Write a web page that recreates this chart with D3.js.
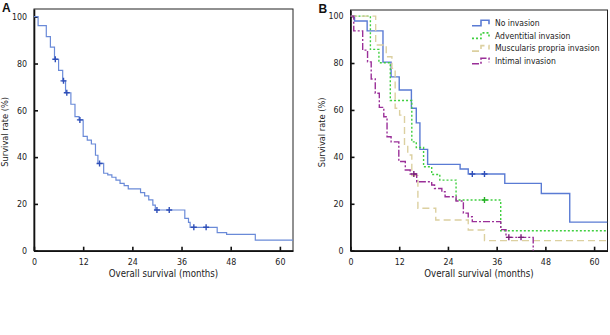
<!DOCTYPE html>
<html>
<head>
<meta charset="utf-8">
<script src="https://cdn.jsdelivr.net/npm/d3@7"></script>
<style>
  body { margin: 0; background: #fff; }
  svg { display: block; }
</style>
</head>
<body>
<div id="viz"></div>
<script>
// Panel A - all patients
const allTimes  = [0, 1, 3, 4, 5, 6, 7, 7.7, 9, 10, 11, 12, 13, 14, 15, 15.6, 17, 18, 19, 20, 21, 22, 23, 26, 27, 28, 29, 29.6, 36.8, 37.7, 38.1, 44.7, 47, 54];
const allSurv   = [100, 96.2, 91.5, 87.0, 81.8, 77.1, 72.6, 67.5, 62.6, 57.3, 55.9, 48.9, 47.3, 45.6, 40.8, 37.3, 33.1, 32.4, 31.4, 30.2, 28.8, 27.8, 26.4, 24.8, 23.4, 21.7, 19.5, 17.4, 13.8, 12.1, 10.0, 7.7, 7.0, 4.5];
const allCensor = [5.2, 7.2, 8, 11.2, 16, 30, 33, 39, 42];

// Panel B - by depth of invasion
const groups = ["No invasion", "Adventitial invasion", "Muscularis propria invasion", "Intimal invasion"];

const noTimes  = [0, 1, 4.1, 8, 10, 12, 15, 16.2, 17.1, 19, 27, 29, 38, 47, 54];
const noSurv   = [100, 97.9, 93.7, 80.4, 74.1, 68.5, 60.7, 54.5, 43.2, 36.8, 34.8, 32.7, 28.7, 24.4, 12.2];
const noCensor = [30, 33];

const advTimes  = [0, 4.9, 7, 9.8, 15.1, 16.2, 18, 20, 22, 26, 37];
const advSurv   = [100, 85.8, 80.1, 64.0, 46.4, 44.0, 35.8, 32.5, 30.1, 21.6, 8.5];
const advCensor = [33];

const mpTimes  = [0, 6.2, 8.8, 10.2, 11, 12.1, 13.3, 14.1, 15.1, 16.6, 21, 29, 33];
const mpSurv   = [100, 87.7, 82.7, 77.7, 60.7, 57.8, 45.0, 40.8, 32.0, 18.1, 13.1, 8.8, 4.3];
const mpCensor = [];

const intTimes  = [0, 0.8, 3, 4.2, 5.1, 6.1, 7.1, 8.2, 9, 10, 11.9, 13.5, 14.7, 16.3, 20, 20.7, 22.5, 23.3, 26, 27.8, 29, 30, 37, 38.3, 45];
const intSurv   = [100, 93.7, 85.5, 80.5, 73.2, 67.1, 61.1, 57.1, 48.6, 46.4, 38.0, 34.4, 32.7, 29.4, 28.0, 26.5, 25.1, 23.0, 21.2, 16.0, 14.5, 12.4, 9.0, 5.7, 0];
const intCensor = [15.6, 39, 42];

const xTicks = [0, 12, 24, 36, 48, 60];
const yTicks = [0, 20, 40, 60, 80, 100];

const curveColors = ["#5a7bd4", "#3fcf3f", "#dcd0a0", "#9a2f98"];
const curveDash   = [null, "2,2", "7,4", "7,2,2,2"];
const censorColors = ["#2f4fb8", "#22b022", "#c8bb80", "#7a1f78"];

const font = "'DejaVu Sans Condensed', 'DejaVu Sans', sans-serif";

const svg = d3.select("#viz").append("svg")
    .attr("width", 610)
    .attr("height", 335)
    .style("font-family", font);

function curveData(times, surv, end) {
  let pts = times.map((t, i) => ({t: t, s: surv[i]}));
  let last = pts[pts.length - 1];
  if (end > last.t) pts.push({t: end, s: last.s});
  return pts;
}

function survAt(times, surv, t) {
  let i = d3.bisectRight(times, t) - 1;
  return surv[Math.max(i, 0)];
}

function drawPanel(p) {
  const x = d3.scaleLinear().domain([0, p.xMax]).range([p.left, p.right]);
  const y = d3.scaleLinear().domain([0, p.yMax]).range([p.bottom, p.top]);

  const g = svg.append("g");

  g.append("clipPath").attr("id", "clip" + p.id)
    .append("rect")
    .attr("x", p.left).attr("y", p.top - 2)
    .attr("width", p.right - p.left).attr("height", p.bottom - p.top + 2);

  // frame
  g.append("rect")
    .attr("x", p.left).attr("y", p.top)
    .attr("width", p.right - p.left).attr("height", p.bottom - p.top)
    .attr("fill", "none")
    .attr("stroke", "#222")
    .attr("stroke-width", 1);

  // axes, ticks pointing inward
  const xAxis = d3.axisBottom(x).tickValues(xTicks).tickSizeInner(-4).tickSizeOuter(0).tickPadding(8);
  const yAxis = d3.axisLeft(y).tickValues(yTicks).tickSizeInner(-4).tickSizeOuter(0).tickPadding(7);

  const xa = g.append("g").attr("transform", `translate(0,${p.bottom})`).call(xAxis);
  const ya = g.append("g").attr("transform", `translate(${p.left},0)`).call(yAxis);

  [xa, ya].forEach(a => {
    a.select(".domain").attr("stroke", "#111").attr("stroke-width", 1.6);
    a.selectAll(".tick line").attr("stroke", "#111").attr("stroke-width", 1.6);
    a.selectAll(".tick text")
      .attr("fill", "#222")
      .style("font-family", font)
      .style("font-size", "8.8px");
  });

  g.append("text")
    .attr("x", (p.left + p.right) / 2)
    .attr("y", p.bottom + 26)
    .attr("text-anchor", "middle")
    .attr("fill", "#222")
    .style("font-size", "9.6px")
    .text("Overall survival (months)");

  g.append("text")
    .attr("transform", `translate(${p.left - 26},${(p.top + p.bottom) / 2 + 2}) rotate(-90)`)
    .attr("text-anchor", "middle")
    .attr("fill", "#222")
    .style("font-size", "9.2px")
    .text("Survival rate (%)");

  g.append("text")
    .attr("x", p.left - 32)
    .attr("y", p.top + 3)
    .attr("fill", "#111")
    .style("font-family", "'Liberation Sans', Arial, sans-serif")
    .style("font-weight", "bold")
    .style("font-size", "12px")
    .text(p.id);

  const line = d3.line()
    .x(d => x(d.t))
    .y(d => y(d.s))
    .curve(d3.curveStepAfter);

  const plot = g.append("g").attr("clip-path", `url(#clip${p.id})`);

  p.series.forEach(s => {
    plot.append("path")
      .datum(curveData(s.times, s.surv, s.end))
      .attr("fill", "none")
      .attr("stroke", s.color)
      .attr("stroke-width", s.width)
      .attr("stroke-dasharray", s.dash)
      .attr("d", line);

    const marks = plot.append("g")
      .attr("stroke", s.censorColor)
      .attr("stroke-width", 1.4)
    .selectAll("g")
    .data(s.censor)
    .join("g")
      .attr("transform", t => `translate(${x(t)},${y(survAt(s.times, s.surv, t))})`);

    marks.append("line").attr("x1", -3).attr("x2", 3);
    marks.append("line").attr("y1", -3).attr("y2", 3);
  });

  return {x: x, y: y};
}

drawPanel({
  id: "A", left: 34, right: 293, top: 9, bottom: 250.7, xMax: 63.2, yMax: 103.3,
  series: [
    {times: allTimes, surv: allSurv, censor: allCensor, end: 63.2,
     color: "#6a8ad8", width: 1.2, dash: null, censorColor: "#2f4fb8"}
  ]
});

const bSeries = [
  {times: noTimes,  surv: noSurv,  censor: noCensor,  end: 63.3},
  {times: advTimes, surv: advSurv, censor: advCensor, end: 63.3},
  {times: mpTimes,  surv: mpSurv,  censor: mpCensor,  end: 63.3},
  {times: intTimes, surv: intSurv, censor: intCensor, end: 45}
];
bSeries.forEach((s, i) => {
  s.color = curveColors[i];
  s.dash = curveDash[i];
  s.censorColor = censorColors[i];
  s.width = 1.4;
});

drawPanel({
  id: "B", left: 350.5, right: 607.5, top: 10, bottom: 250.7, xMax: 63.3, yMax: 102.6,
  series: bSeries
});

// legend for panel B, small step glyphs
const legend = svg.append("g")
  .selectAll("g")
  .data(groups)
  .join("g")
    .attr("transform", (d, i) => `translate(472,${22.7 + i * 12.7})`);

legend.append("path")
  .attr("fill", "none")
  .attr("stroke", (d, i) => curveColors[i])
  .attr("stroke-width", 1.6)
  .attr("stroke-dasharray", (d, i) => curveDash[i])
  .attr("d", "M0,3 H9 V-2.5 H17 V1.5");

legend.append("text")
  .attr("x", 23)
  .attr("y", 3.2)
  .attr("fill", "#222")
  .style("font-size", "8.5px")
  .text(d => d);
</script>
</body>
</html>
